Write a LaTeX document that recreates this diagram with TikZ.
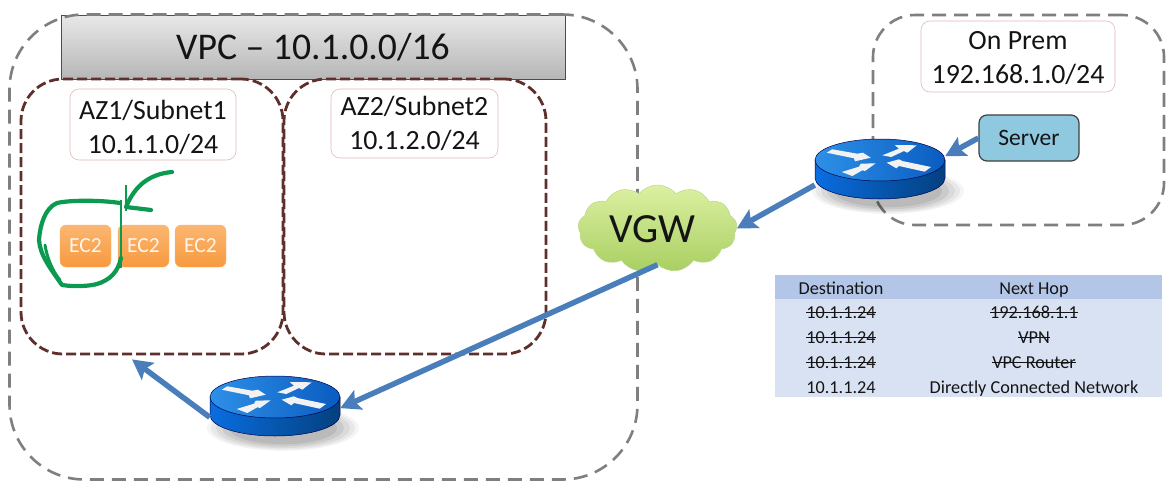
\documentclass[tikz,border=0pt]{standalone}
\usepackage{fontspec}
\setmainfont{Carlito}
\usetikzlibrary{arrows.meta,shapes.symbols,shadings}
\definecolor{dashgray}{HTML}{7F7F7F}
\definecolor{azbrown}{HTML}{5E2F2B}
\definecolor{pinkb}{HTML}{E6B8B7}
\definecolor{linkblue}{HTML}{4A7EBB}
\definecolor{greenpen}{HTML}{0B9A50}
\definecolor{thead}{HTML}{B4C6E7}
\definecolor{tbody}{HTML}{D9E2F3}
\definecolor{srvfill}{HTML}{8FC9E0}
\definecolor{cloudtop}{HTML}{DCF0A2}
\definecolor{cloudbot}{HTML}{A9CF62}
\definecolor{cloudedge}{HTML}{B9D98A}
\definecolor{ectop}{HTML}{FBB672}
\definecolor{ecbot}{HTML}{F79A3E}
\definecolor{bantop}{HTML}{E8E8E8}
\definecolor{banbot}{HTML}{B6B6B6}
\newdimen\fsl
\newcommand{\fs}[1]{\fsl=#1pt \fsl=1.22\fsl \fontsize{#1}{\the\fsl}\selectfont}
\newsavebox{\strkbox}
\newcommand{\strk}[1]{\sbox{\strkbox}{#1}\rlap{\usebox{\strkbox}}\rule[.27em]{\wd\strkbox}{.07em}}
\newcommand{\twol}[3]{\raisebox{#1}[0pt][0pt]{\begin{tabular}{@{}c@{}}#2\\#3\end{tabular}}}
\newcommand{\routerdraw}[3]{%
  \begin{scope}[shift={(#1,#2)}]
    \foreach \r/\o in {76/.04,72/.05,67/.06,61/.07,54/.08}{
      \fill[black,opacity=\o] (8,31) ellipse [x radius=\r, y radius=\r*.3];}
    \draw[routerline,left color=routerA,right color=routerB]
      (-65,0) -- (-65,18) .. controls (-65,29.6) and (-36,39) .. (0,39)
      .. controls (36,39) and (65,29.6) .. (65,18) -- (65,0) -- cycle;
    \draw[routerline,left color=routerC,right color=routerD] (0,0) ellipse [x radius=65, y radius=21];
    \fill[routerarrow] (-47.7,-10.7) -- (-22.7,-6.3) -- (-17,-7.3) -- (-9.3,-2.3) -- (-25,1.3) -- (-26,-1.7) -- (-53.3,-7.3) -- cycle;
    \fill[routerarrow] (-38.3,12) -- (-21,6.7) -- (-19.3,3.7) -- (-4.3,3.3) -- (-15,11) -- (-17.7,10.3) -- (-27.7,16) -- cycle;
    \fill[routerarrow] (51,7) -- (22.3,1) -- (19,-.7) -- (6.7,2.7) -- (16.3,8.3) -- (19,6) -- (44.7,11.7) -- cycle;
    \fill[routerarrow] (2.3,-4.7) -- (19,-11.3) -- (14.7,-15) -- (36.7,-14.7) -- (27.3,-7.3) -- (24,-9) -- (11.3,-3) -- cycle;
  \end{scope}
  \node[routerbox] (#3) at (#1,#2+10) {};}
\definecolor{routerA}{HTML}{0A6DE0}
\definecolor{routerB}{HTML}{03407F}
\definecolor{routerC}{HTML}{2E90E8}
\definecolor{routerD}{HTML}{0A5CC0}
\tikzset{
  x=1pt,y=-1pt,
  vpcdash/.style={draw=dashgray,line width=2.6pt,dash pattern=on 14pt off 8pt,rounded corners=#1},
  azdash/.style={draw=azbrown,line width=2.8pt,dash pattern=on 10pt off 4pt,rounded corners=42pt,
    minimum width=262pt,minimum height=275pt,inner sep=0pt},
  labelbox/.style={draw=pinkb,line width=.6pt,rounded corners=9pt,fill=white,align=center,
    font=\fs{27.8},inner sep=0pt,text=black!92},
  ectwo/.style={rounded corners=6pt,top color=ectop,bottom color=ecbot,
    text=white!92!orange,font=\fs{21.5},minimum width=51pt,minimum height=42pt,inner sep=0pt,
    draw=ectop,line width=.4pt},
  link/.style={draw=linkblue,line width=5.5pt,-{Stealth[length=20pt,width=21pt,inset=4pt]}},
  routerline/.style={draw=black!70!blue,line width=.5pt},
  routerarrow/.style={fill=white!90!gray},
  routerbox/.style={rectangle,minimum width=130pt,minimum height=60pt,inner sep=0pt},
  pen/.style={draw=greenpen,line width=4.2pt,line cap=round,line join=round},
  tcell/.style={font=\fs{18.2},inner sep=0pt,anchor=center,text=black!92,text height=14pt,text depth=2pt},
}
\begin{document}
\begin{tikzpicture}
\useasboundingbox (0,0) rectangle (1173,482);
\fill[white] (0,0) rectangle (1173,482);

% VPC banner
\node[draw=black!70,line width=1pt,minimum width=504pt,minimum height=64pt,inner sep=0pt,
  top color=bantop,bottom color=banbot,font=\fs{37.7},text=black!92] (banner) at (313,47) {VPC – 10.1.0.0/16};

% outer dashed zones
\node[vpcdash=75pt,minimum width=628pt,minimum height=465pt,inner sep=0pt] (vpc) at (323.5,247) {};
\node[vpcdash=42pt,minimum width=291pt,minimum height=210pt,inner sep=0pt] (prem) at (1018.5,120) {};

% subnets
\node[azdash] (az1) at (152,216.5) {};
\node[azdash] (az2) at (415,216.5) {};

\node[labelbox,minimum width=166pt,minimum height=71pt] (l1) at (153,124.5) {\twol{-11.5pt}{AZ1/Subnet1}{10.1.1.0/24}};
\node[labelbox,minimum width=167pt,minimum height=69pt] (l2) at (414.5,123.5) {\twol{-8.5pt}{AZ2/Subnet2}{10.1.2.0/24}};
\node[labelbox,minimum width=194pt,minimum height=71pt] (l3) at (1018,56.5) {\twol{-9.5pt}{On Prem}{192.168.1.0/24}};

% EC2
\node[ectwo] (e1) at (85.5,246) {EC2};
\node[ectwo] (e2) at (143.5,246) {EC2};
\node[ectwo] (e3) at (200.5,246) {EC2};

% handwriting
\draw[pen] (120,203) .. controls (100,200) and (70,200) .. (57,203)
  .. controls (45,208) and (40,225) .. (39,240)
  .. controls (40,255) and (50,268) .. (62,285)
  .. controls (75,287) and (90,286) .. (97,284)
  .. controls (110,280) and (118,272) .. (121,258);
\draw[pen,line width=3pt] (45,245) .. controls (47,258) and (53,272) .. (60,280);
\draw[greenpen,line width=1.3pt] (121,200) -- (121,268);
\draw[pen] (172,172) .. controls (150,174) and (135,185) .. (126,207) -- (151,210);
\draw[greenpen,line width=1.3pt] (126,185) -- (126,211);

% cloud
\node[cloud,cloud puffs=13,cloud puff arc=100,aspect=1.83,inner sep=0pt,
  minimum width=159pt,minimum height=87pt,draw=cloudedge,line width=.5pt,
  top color=cloudtop,bottom color=cloudbot] (vgw) at (657.5,228.5) {};
\node[font=\fs{41.5},inner sep=0pt,text=black!92] (vgwt) at (652,229) {VGW};

% server
\node[draw=black!75,line width=1.2pt,rounded corners=8pt,fill=srvfill,
  minimum width=100pt,minimum height=46pt,inner sep=0pt,font=\fs{23.5},text=black!92] (srv) at (1029,138) {Server};

% routers
\routerdraw{880}{160}{r1}
\routerdraw{275}{397}{r2}

% connectors
\draw[link] (srv.west) -- (r1.12);
\draw[link] (r1.193) -- (vgw.east);
\draw[link] (vgw.south) -- (r2.-1);
\draw[link] (r2.189) -- ([xshift=-20pt,yshift=-4pt]az1.south);

% table
\node[fill=tbody,minimum width=387pt,minimum height=122pt,inner sep=0pt] (tb) at (968.5,336) {};
\node[fill=thead,minimum width=387pt,minimum height=24pt,inner sep=0pt] (th) at (968.5,287) {};
\node[tcell] (d0) at (841,288) {Destination};
\node[tcell] (n0) at (1034,288) {Next Hop};
\node[tcell] (d1) at (841,312) {\strk{10.1.1.24}};
\node[tcell] (n1) at (1034,312) {\strk{192.168.1.1}};
\node[tcell] (d2) at (841,337) {\strk{10.1.1.24}};
\node[tcell] (n2) at (1034,337) {\strk{VPN}};
\node[tcell] (d3) at (841,362) {\strk{10.1.1.24}};
\node[tcell] (n3) at (1034,362) {\strk{VPC Router}};
\node[tcell] (d4) at (841,387) {10.1.1.24};
\node[tcell] (n4) at (1034,387) {Directly Connected Network};
\end{tikzpicture}
\end{document}
